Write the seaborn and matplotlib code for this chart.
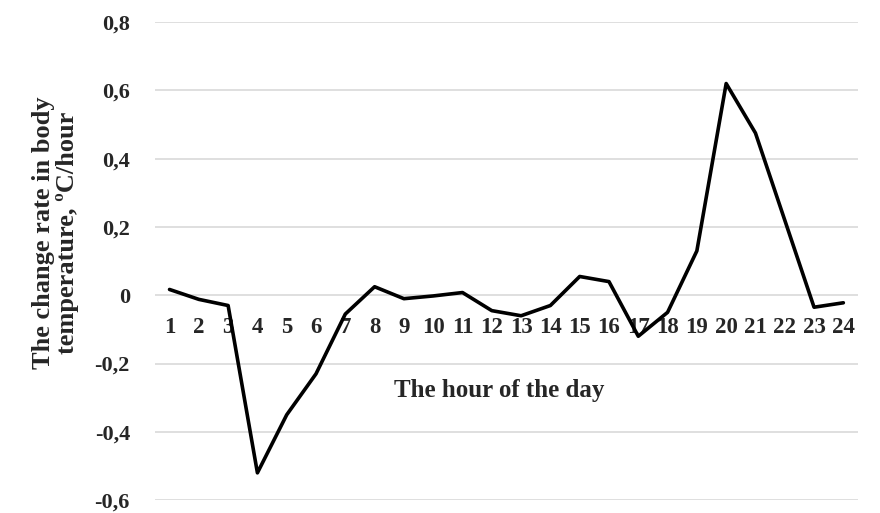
import pandas as pd
import matplotlib.pyplot as plt
import seaborn as sns

# hourly change rate in body temperature
hours = list(range(1, 25))
rate = [0.017, -0.012, -0.03, -0.52, -0.35, -0.23, -0.055, 0.025,
        -0.01, -0.002, 0.008, -0.045, -0.06, -0.03, 0.055, 0.04,
        -0.12, -0.05, 0.13, 0.62, 0.475, 0.22, -0.035, -0.022]
y_ticks = [-0.6, -0.4, -0.2, 0, 0.2, 0.4, 0.6, 0.8]
y_labels = ['-0,6', '-0,4', '-0,2', '0', '0,2', '0,4', '0,6', '0,8']

df = pd.DataFrame({'Hour': hours, 'Rate': rate})

sns.set_style('white')
plt.rcParams['font.family'] = ['Liberation Serif', 'DejaVu Serif']
plt.rcParams['font.weight'] = 'bold'

fig = plt.figure(figsize=(8.8, 5.13), dpi=100)
ax = fig.add_axes([0.176, 0.025, 0.799, 0.932])

ax.grid(axis='y', color='#d9d9d9', linewidth=1.2)
ax.set_axisbelow(True)
sns.lineplot(data=df, x='Hour', y='Rate', color='black', linewidth=2.6, ax=ax)

# x tick labels sit just under the zero line, as in the original
for s in ax.spines.values():
    s.set_visible(False)
ax.spines['bottom'].set_position(('data', 0))

ax.set_xlim(0.5, 24.5)
ax.set_ylim(-0.6, 0.8)
ax.set_yticks(y_ticks)
ax.set_yticklabels(y_labels)
ax.set_xticks(hours)
ax.set_xticklabels([str(h) for h in hours])
ax.tick_params(axis='both', length=0, labelsize=16)
ax.tick_params(axis='y', pad=18)
ax.tick_params(axis='x', pad=16, labelsize=16.5)

ax.set_xlabel('The hour of the day', fontsize=18, fontweight='bold', va='center')
ax.xaxis.set_label_coords(0.49, 0.23)
ax.set_ylabel('The change rate in body\ntemperature, ºC/hour', fontsize=19,
              fontweight='bold', linespacing=1.05, va='center')
ax.yaxis.set_label_coords(-0.141, 0.56)

fig.savefig('out.png', dpi=100)
